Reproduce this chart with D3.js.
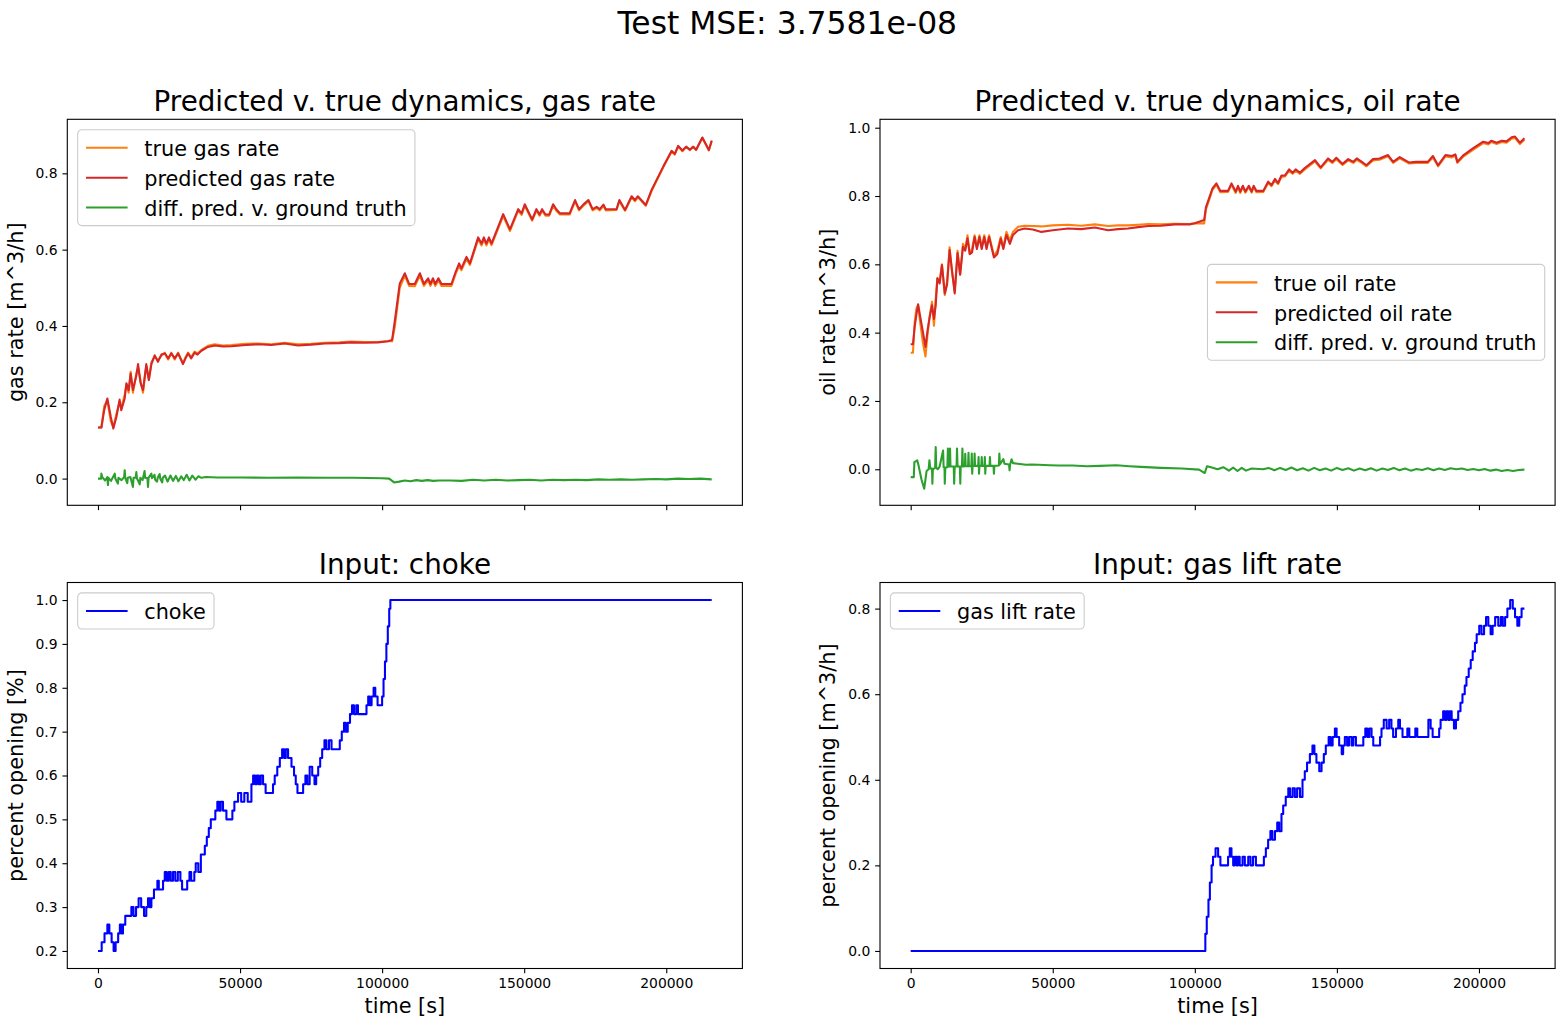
<!DOCTYPE html>
<html>
<head>
<meta charset="utf-8">
<script src="https://cdn.jsdelivr.net/npm/d3@7"></script>
<style>
  body { margin: 0; background: #fff; }
  text { font-family: "DejaVu Sans", sans-serif; }
</style>
</head>
<body>
<svg id="fig" width="1565" height="1028"></svg>
<script>
// ---- data: [time s, value] ----
var gasPred = [[0,.134],[1200,.134],[2200,.18],[3300,.21],[4500,.162],[5400,.131],[6500,.162],[7600,.207],[8200,.179],[9400,.21],[10000,.25],[10800,.232],[11500,.275],[12300,.232],[13500,.27],[14100,.30],[15000,.25],[15850,.232],[17000,.30],[17900,.258],[18800,.30],[19960,.323],[21100,.306],[22300,.325],[23500,.328],[24700,.315],[25800,.328],[27000,.315],[28200,.328],[29350,.31],[29900,.30],[30800,.315],[31700,.328],[32800,.315],[34000,.33],[35000,.325],[36400,.335],[38700,.345],[41100,.349],[44000,.346],[47000,.347],[52000,.350],[56300,.352],[61000,.350],[65700,.354],[70400,.349],[75000,.351],[79800,.354],[85000,.355],[89200,.357],[94000,.356],[98600,.357],[102000,.360],[103500,.363],[104500,.415],[106200,.511],[108000,.538],[109500,.51],[111500,.51],[113300,.538],[114700,.51],[116200,.525],[117000,.51],[117900,.525],[118700,.51],[119800,.525],[120900,.51],[124400,.51],[125900,.542],[127100,.564],[127900,.551],[129700,.581],[130900,.564],[133800,.632],[135000,.616],[135800,.632],[136700,.616],[137600,.632],[138500,.616],[142600,.693],[145000,.653],[147900,.706],[149100,.695],[150200,.719],[152800,.679],[154300,.706],[155400,.692],[156300,.706],[157500,.692],[158800,.692],[160200,.719],[161300,.706],[162600,.695],[166000,.695],[167900,.730],[169300,.706],[170800,.718],[172600,.73],[174100,.706],[175500,.712],[176600,.706],[177900,.718],[178700,.706],[182500,.706],[183500,.73],[185500,.704],[187800,.740],[189000,.73],[190000,.74],[191200,.73],[192800,.717],[194800,.756],[198900,.817],[201900,.859],[203000,.851],[204200,.872],[205700,.86],[207000,.87],[208300,.862],[209500,.87],[210500,.862],[212700,.894],[215000,.861],[216000,.886]];

var gasTrue = [[0,.134],[1200,.134],[2200,.19],[3300,.205],[4500,.15],[5400,.135],[6500,.17],[7600,.20],[8200,.185],[9400,.22],[10000,.245],[10800,.225],[11500,.28],[12300,.225],[13500,.275],[14100,.29],[15000,.255],[15850,.225],[17000,.295],[17900,.26],[18800,.305],[19960,.32],[21100,.31],[22300,.322],[23500,.33],[24700,.312],[25800,.33],[27000,.312],[28200,.33],[29350,.31],[29900,.302],[30800,.318],[31700,.33],[32800,.318],[34000,.333],[35000,.328],[36400,.337],[38700,.348],[41100,.352],[44000,.349],[47000,.350],[52000,.353],[56300,.354],[61000,.352],[65700,.356],[70400,.352],[75000,.353],[79800,.356],[85000,.357],[89200,.359],[94000,.358],[98600,.358],[102000,.360],[103500,.360],[104500,.40],[106200,.50],[108000,.532],[109500,.505],[111500,.504],[113300,.532],[114700,.505],[116200,.52],[117000,.505],[117900,.52],[118700,.505],[119800,.52],[120900,.505],[124400,.505],[125900,.537],[127100,.558],[127900,.546],[129700,.576],[130900,.56],[133800,.627],[135000,.611],[135800,.627],[136700,.611],[137600,.627],[138500,.612],[142600,.688],[145000,.649],[147900,.702],[149100,.691],[150200,.715],[152800,.676],[154300,.702],[155400,.689],[156300,.702],[157500,.689],[158800,.689],[160200,.715],[161300,.702],[162600,.692],[166000,.692],[167900,.726],[169300,.703],[170800,.715],[172600,.727],[174100,.703],[175500,.709],[176600,.703],[177900,.715],[178700,.703],[182500,.704],[183500,.727],[185500,.702],[187800,.737],[189000,.727],[190000,.737],[191200,.728],[192800,.715],[194800,.753],[198900,.815],[201900,.857],[203000,.849],[204200,.871],[205700,.858],[207000,.869],[208300,.861],[209500,.869],[210500,.861],[212700,.893],[215000,.86],[216000,.884]];

var gasDiff = [[0,0],[1100,0],[1200,.013],[1500,.004],[2500,-.005],[3300,.004],[3500,-.017],[3700,.002],[4600,-.006],[5200,.003],[5900,.013],[6100,.0],[7000,-.013],[7200,.002],[8300,-.004],[9200,.004],[9400,.022],[9600,.002],[10300,-.012],[10500,.002],[11400,.004],[12300,-.022],[12500,.002],[13300,.003],[13500,.017],[13700,.001],[14700,-.015],[14900,.002],[15700,-.004],[16400,.02],[16600,.002],[17400,.001],[17600,-.022],[17800,.002],[18800,.013],[19000,.001],[19900,.01],[20100,-.003],[20800,-.008],[21000,.002],[21700,.012],[21900,.0],[22600,-.01],[22800,.002],[23600,.008],[24500,-.008],[25500,.008],[26400,-.006],[27400,.007],[28300,-.007],[29300,.006],[30200,-.004],[31200,.01],[32200,-.005],[33200,.008],[34300,-.003],[35300,.006],[36400,.002],[38000,.004],[42000,.003],[50000,.003],[60000,.002],[70000,.003],[80000,.002],[90000,.002],[100000,.001],[102500,0],[104200,-.010],[106000,-.008],[108000,-.005],[110000,-.007],[112000,-.004],[114000,-.006],[116000,-.004],[118000,-.006],[120000,-.005],[124000,-.005],[128000,-.006],[132000,-.003],[136000,-.005],[140000,-.003],[144000,-.005],[148000,-.004],[152000,-.003],[156000,-.005],[160000,-.003],[164000,-.004],[168000,-.003],[172000,-.004],[176000,-.002],[180000,-.003],[184000,-.002],[188000,-.003],[192000,-.002],[196000,-.001],[200000,-.002],[204000,0],[208000,-.001],[212000,0],[216000,-.002]];

var oilPred = [[0,.366],[800,.366],[1400,.417],[2000,.451],[2600,.483],[3500,.44],[4300,.402],[5200,.358],[6000,.41],[6700,.446],[7500,.48],[8200,.44],[8800,.48],[9400,.559],[10200,.544],[11000,.598],[12000,.515],[12800,.54],[13700,.642],[14500,.585],[15500,.515],[16500,.633],[17400,.57],[18400,.651],[19200,.64],[20000,.676],[20800,.63],[21600,.635],[22500,.68],[23300,.645],[24200,.68],[25000,.645],[25900,.68],[26700,.645],[27600,.68],[28600,.645],[29300,.62],[30500,.63],[31700,.675],[32600,.645],[33700,.686],[34900,.66],[36000,.686],[37800,.70],[40100,.705],[43000,.702],[46000,.695],[50000,.700],[55400,.705],[60000,.703],[64800,.708],[69500,.70],[73000,.703],[76500,.705],[80000,.709],[83600,.712],[88000,.713],[93000,.717],[98200,.717],[100000,.72],[103300,.73],[103900,.767],[106200,.822],[107600,.837],[109000,.815],[111700,.815],[112900,.837],[114400,.813],[115200,.83],[116000,.813],[116900,.83],[117800,.813],[119000,.83],[120000,.813],[120700,.83],[121700,.815],[124100,.815],[125800,.842],[127000,.832],[128200,.85],[129300,.838],[130500,.86],[131700,.86],[133200,.878],[134400,.868],[135500,.878],[137000,.868],[138700,.882],[142300,.905],[144300,.884],[146900,.910],[148400,.90],[149800,.912],[152000,.894],[154000,.908],[155800,.90],[157000,.91],[158800,.90],[160400,.89],[162700,.908],[165000,.91],[168000,.92],[169800,.90],[172100,.914],[175500,.898],[177800,.90],[179600,.90],[182000,.90],[183800,.917],[185600,.89],[188200,.92],[190500,.917],[191700,.922],[192400,.90],[194600,.92],[198000,.94],[201500,.959],[203300,.955],[204400,.962],[206200,.956],[208000,.962],[209700,.96],[211500,.972],[212700,.974],[214400,.956],[216000,.969]];

var oilTrue = [[0,.341],[800,.341],[1400,.43],[2000,.47],[2600,.48],[3500,.42],[4300,.37],[5200,.33],[6000,.40],[6700,.45],[7500,.49],[8200,.42],[8800,.50],[9400,.56],[10200,.55],[11000,.60],[12000,.51],[12800,.55],[13700,.65],[14500,.58],[15500,.52],[16500,.64],[17400,.57],[18400,.66],[19200,.645],[20000,.685],[20800,.63],[21600,.645],[22500,.685],[23300,.65],[24200,.685],[25000,.65],[25900,.685],[26700,.65],[27600,.685],[28600,.65],[29300,.625],[30500,.64],[31700,.68],[32600,.65],[33700,.695],[34900,.67],[36000,.695],[37800,.71],[40100,.713],[43000,.712],[46000,.711],[50000,.714],[55400,.716],[60000,.713],[64800,.717],[69500,.712],[73000,.714],[76500,.714],[80000,.716],[83600,.718],[88000,.717],[93000,.719],[98200,.718],[100000,.72],[103300,.72],[103900,.76],[106200,.818],[107600,.833],[109000,.811],[111700,.812],[112900,.833],[114400,.809],[115200,.826],[116000,.809],[116900,.826],[117800,.81],[119000,.826],[120000,.81],[120700,.826],[121700,.811],[124100,.812],[125800,.838],[127000,.829],[128200,.846],[129300,.835],[130500,.856],[131700,.857],[133200,.874],[134400,.865],[135500,.874],[137000,.865],[138700,.878],[142300,.901],[144300,.881],[146900,.906],[148400,.897],[149800,.908],[152000,.891],[154000,.904],[155800,.897],[157000,.906],[158800,.897],[160400,.887],[162700,.904],[165000,.906],[168000,.916],[169800,.897],[172100,.91],[175500,.895],[177800,.897],[179600,.897],[182000,.897],[183800,.913],[185600,.887],[188200,.916],[190500,.913],[191700,.918],[192400,.897],[194600,.916],[198000,.936],[201500,.955],[203300,.951],[204400,.958],[206200,.952],[208000,.958],[209700,.956],[211500,.968],[212700,.97],[214400,.952],[216000,.965]];

var oilDiff = [[0,-.023],[1100,-.023],[1300,.021],[2300,.026],[2800,.01],[3800,-.03],[4750,-.057],[5200,-.03],[5600,-.005],[6300,0],[6600,.026],[6900,.002],[7500,.002],[7640,-.042],[7800,0],[8600,.004],[8800,.065],[9000,.005],[9500,0],[10200,.008],[11400,.055],[11600,.006],[11900,.005],[12000,-.042],[12200,.005],[12900,.006],[13100,.061],[13300,.008],[13700,.008],[13850,.061],[14000,.008],[15150,.008],[15300,-.042],[15500,.008],[16150,.008],[16300,.061],[16500,.008],[17300,.008],[17460,-.042],[17600,.008],[18050,.008],[18200,.061],[18400,.008],[19100,.009],[19200,.045],[19350,.009],[20200,.009],[20350,.048],[20500,.009],[21350,.009],[21500,.046],[21650,-.013],[21800,.009],[22350,.01],[22500,.046],[22650,.01],[23750,.01],[23900,.036],[24050,-.013],[24200,.01],[24850,.01],[25000,.036],[25150,.01],[25950,.01],[26100,.036],[26250,-.013],[26400,.01],[27750,.01],[27900,.036],[28050,.01],[29150,.01],[29300,-.013],[29450,.01],[31050,.011],[31200,.046],[31400,.014],[32600,.03],[33000,.016],[34600,.014],[34800,-.003],[35000,.014],[35500,.029],[36000,.018],[37700,.016],[40600,.013],[42500,.014],[45000,.013],[49000,.012],[52100,.011],[57000,.011],[62000,.009],[66600,.01],[72400,.012],[77000,.009],[81000,.007],[88000,.004],[95400,.002],[101500,-.001],[103500,-.011],[104300,.009],[106000,.005],[108000,0],[110000,.006],[112000,-.004],[113500,.005],[115000,-.005],[116500,.004],[118000,-.004],[120000,.002],[124000,0],[126000,.004],[128000,-.003],[130000,.004],[132000,-.002],[134000,.005],[136000,-.003],[138000,.003],[140000,-.004],[142000,.004],[144000,-.003],[146000,.002],[148000,-.004],[150000,.004],[152000,-.002],[154000,.003],[156000,-.004],[158000,.002],[160000,-.003],[162000,.003],[164000,-.004],[166000,.002],[168000,-.002],[170000,.004],[172000,-.003],[174000,.002],[176000,-.004],[178000,.001],[180000,-.002],[182000,.003],[184000,-.003],[186000,.002],[188000,-.002],[190000,.003],[192000,0],[194000,.002],[196000,-.002],[198000,.001],[200000,-.003],[202000,.001],[204000,-.004],[206000,-.001],[208000,-.005],[210000,-.002],[212000,-.005],[214000,-.002],[216000,-.001]];

// input levels: each pair = level that starts at that time
var choke = [[0,.20],[1300,.22],[2300,.24],[3300,.26],[4000,.24],[4800,.22],[5500,.20],[6200,.22],[7100,.24],[7700,.26],[8300,.24],[8800,.26],[9600,.28],[11750,.30],[12500,.28],[13400,.30],[14300,.32],[15200,.30],[16200,.28],[17000,.30],[17600,.32],[18200,.30],[18800,.32],[19700,.34],[20900,.36],[21400,.34],[22900,.36],[23500,.38],[24200,.36],[24900,.38],[25600,.36],[26400,.38],[27200,.36],[28100,.38],[29000,.36],[29600,.34],[31400,.36],[32200,.38],[32800,.36],[33900,.38],[34400,.40],[35300,.38],[36200,.42],[37600,.44],[38300,.46],[39000,.48],[39700,.50],[41300,.52],[42000,.54],[42600,.52],[43200,.54],[44000,.52],[45200,.50],[47300,.52],[48000,.54],[49300,.56],[50400,.54],[51500,.56],[52700,.54],[54000,.58],[54600,.60],[55300,.58],[55900,.60],[56600,.58],[57300,.60],[58100,.58],[59000,.56],[61600,.58],[62200,.60],[63100,.62],[64000,.64],[64800,.66],[65500,.64],[66100,.66],[66900,.64],[68100,.62],[69000,.60],[69600,.58],[70200,.56],[72200,.58],[73000,.60],[73700,.58],[74500,.62],[75400,.60],[76200,.58],[76800,.60],[77500,.62],[78200,.64],[78900,.66],[79700,.68],[80400,.66],[81300,.68],[82200,.66],[85100,.68],[85800,.70],[86600,.72],[87200,.70],[87900,.72],[88700,.74],[89400,.76],[90100,.74],[90900,.76],[91500,.74],[94500,.76],[95100,.78],[95700,.76],[96300,.78],[97000,.80],[97600,.78],[98400,.76],[100000,.78],[100500,.82],[101000,.86],[101500,.90],[102000,.94],[102500,.98],[102900,1.0],[216000,1.0]];

var gasLift = [[0,0],[103200,0],[103700,.04],[104200,.08],[104800,.12],[105300,.16],[105900,.20],[106400,.22],[107300,.24],[108200,.22],[109000,.20],[111700,.22],[112300,.24],[112900,.22],[113500,.20],[114100,.22],[114700,.20],[115200,.22],[115800,.20],[116800,.22],[117600,.20],[118800,.22],[119600,.20],[120500,.22],[121500,.20],[124300,.22],[125000,.24],[125800,.26],[126600,.28],[127300,.26],[128200,.28],[129000,.30],[129700,.28],[130500,.32],[131100,.34],[132000,.36],[132900,.38],[133500,.36],[134400,.38],[135200,.36],[136000,.38],[137000,.36],[137900,.40],[138700,.42],[139500,.44],[140500,.46],[141400,.48],[142100,.46],[142800,.44],[143800,.42],[144600,.44],[145400,.46],[146100,.48],[147100,.50],[147800,.48],[148500,.50],[149300,.52],[149900,.50],[150800,.48],[151700,.46],[152200,.48],[152800,.50],[153600,.48],[154300,.50],[155200,.48],[155800,.50],[156700,.48],[157500,.48],[159300,.50],[160000,.52],[160700,.50],[161400,.52],[162200,.50],[162800,.48],[165200,.50],[165700,.52],[166500,.54],[167500,.52],[168400,.54],[169200,.52],[169800,.50],[170800,.52],[171600,.54],[172200,.52],[173100,.50],[174800,.52],[175500,.50],[177600,.52],[178300,.50],[182200,.54],[183000,.52],[183700,.50],[186000,.52],[186500,.54],[187400,.56],[188000,.54],[188600,.56],[189200,.54],[189800,.56],[190400,.54],[191200,.52],[191900,.54],[192700,.56],[193500,.58],[194200,.60],[195000,.62],[195600,.64],[196400,.66],[197100,.68],[197800,.70],[198600,.72],[199200,.74],[200100,.76],[200900,.74],[201800,.76],[202500,.78],[203300,.76],[204100,.74],[204800,.76],[205700,.78],[206800,.76],[207700,.78],[208400,.76],[209200,.78],[210000,.80],[211000,.82],[211900,.80],[212700,.78],[213500,.76],[214200,.78],[215000,.80],[216000,.80]];

var xTicks = [0, 50000, 100000, 150000, 200000];
var yTicksGas = [0, .2, .4, .6, .8];
var yTicksOil = [0, .2, .4, .6, .8, 1.0];
var yTicksChoke = [.2, .3, .4, .5, .6, .7, .8, .9, 1.0];
var yTicksLift = [0, .2, .4, .6, .8];

// ---- layout ----
var svg = d3.select("#fig");
var colX = [67.3, 880], rowY = [119.3, 582.5];
var W = 675.1, H = 386;
var xDomain = [-10800, 226800];
var tick = 4.86, fsTick = 13.9, fsLabel = 20.8, fsTitle = 27.8;

svg.append("rect").attr("width", 1565).attr("height", 1028).attr("fill", "#fff");

svg.append("text")
  .attr("x", 787.3).attr("y", 34.3)
  .attr("text-anchor", "middle")
  .attr("font-size", 31.4)
  .text("Test MSE: 3.7581e-08");

function panel(col, row, cfg) {
  var g = svg.append("g").attr("transform", "translate(" + colX[col] + "," + rowY[row] + ")");
  var x = d3.scaleLinear().domain(xDomain).range([0, W]);
  var y = d3.scaleLinear().domain(cfg.yDomain).range([H, 0]);

  cfg.series.forEach(s => {
    var line = d3.line().x(d => x(d[0])).y(d => y(d[1]))
      .curve(s.step ? d3.curveStepAfter : d3.curveLinear);
    g.append("path").datum(s.data)
      .attr("d", line)
      .attr("fill", "none")
      .attr("stroke", s.color)
      .attr("stroke-width", 2.08)
      .attr("stroke-linejoin", "round");
  });

  var ax = g.append("g").attr("transform", "translate(0," + H + ")")
    .call(d3.axisBottom(x).tickValues(xTicks).tickSize(tick).tickPadding(4.86)
      .tickFormat(cfg.xLabels ? d3.format("d") : ""));
  var ay = g.append("g")
    .call(d3.axisLeft(y).tickValues(cfg.yTicks).tickSize(tick).tickPadding(4.86)
      .tickFormat(d3.format(".1f")));
  [ax, ay].forEach(a => {
    a.select(".domain").remove();
    a.selectAll("line").attr("stroke-width", 1.1);
    a.selectAll("text").attr("font-size", fsTick).attr("font-family", '"DejaVu Sans", sans-serif');
  });

  g.append("rect").attr("width", W).attr("height", H)
    .attr("fill", "none").attr("stroke", "#000").attr("stroke-width", 1.1);

  g.append("text").attr("x", W / 2).attr("y", -8.3)
    .attr("text-anchor", "middle").attr("font-size", fsTitle).text(cfg.title);

  g.append("text").attr("transform", "translate(-44.8," + (H / 2) + ") rotate(-90)")
    .attr("text-anchor", "middle").attr("font-size", fsLabel).text(cfg.ylabel);

  if (cfg.xLabels) {
    g.append("text").attr("x", W / 2).attr("y", H + 44.5)
      .attr("text-anchor", "middle").attr("font-size", fsLabel).text("time [s]");
  }

  drawLegend(g, cfg.series, cfg.legendLoc);
}

function drawLegend(g, items, loc) {
  var fs = fsLabel, pad = 0.4 * fs, hl = 2 * fs, htp = 0.8 * fs, ls = 0.5 * fs, rowH = 19.5, bap = 0.5 * fs;
  var lg = g.append("g");
  var box = lg.append("rect");
  var maxW = 0;
  items.forEach((it, i) => {
    var cy = pad + rowH / 2 + i * (rowH + ls);
    lg.append("line").attr("x1", pad).attr("x2", pad + hl).attr("y1", cy).attr("y2", cy)
      .attr("stroke", it.color).attr("stroke-width", 2.08);
    var t = lg.append("text").attr("x", pad + hl + htp).attr("y", cy + 8.3)
      .attr("font-size", fs).text(it.label);
    maxW = Math.max(maxW, t.node().getComputedTextLength());
  });
  var bw = 2 * pad + hl + htp + maxW;
  var bh = 2 * pad + items.length * rowH + (items.length - 1) * ls;
  box.attr("width", bw).attr("height", bh).attr("rx", 4.2).attr("ry", 4.2)
    .attr("fill", "#fff").attr("fill-opacity", 0.8)
    .attr("stroke", "#cccccc").attr("stroke-width", 1.1);
  var lx = bap, ly = bap;
  if (loc === "center right") { lx = W - bap - bw; ly = H / 2 - bh / 2; }
  lg.attr("transform", "translate(" + lx + "," + ly + ")");
}

panel(0, 0, {
  title: "Predicted v. true dynamics, gas rate",
  ylabel: "gas rate [m^3/h]",
  yDomain: [-0.070, 0.9416], yTicks: yTicksGas, xLabels: false, legendLoc: "upper left",
  series: [
    { data: gasTrue, color: "#ff7f0e", label: "true gas rate" },
    { data: gasPred, color: "#d62728", label: "predicted gas rate" },
    { data: gasDiff, color: "#2ca02c", label: "diff. pred. v. ground truth" }
  ]
});

panel(1, 0, {
  title: "Predicted v. true dynamics, oil rate",
  ylabel: "oil rate [m^3/h]",
  yDomain: [-0.1055, 1.0246], yTicks: yTicksOil, xLabels: false, legendLoc: "center right",
  series: [
    { data: oilTrue, color: "#ff7f0e", label: "true oil rate" },
    { data: oilPred, color: "#d62728", label: "predicted oil rate" },
    { data: oilDiff, color: "#2ca02c", label: "diff. pred. v. ground truth" }
  ]
});

panel(0, 1, {
  title: "Input: choke",
  ylabel: "percent opening [%]",
  yDomain: [0.16, 1.04], yTicks: yTicksChoke, xLabels: true, legendLoc: "upper left",
  series: [{ data: choke, color: "#0000ff", label: "choke", step: true }]
});

panel(1, 1, {
  title: "Input: gas lift rate",
  ylabel: "percent opening [m^3/h]",
  yDomain: [-0.041, 0.861], yTicks: yTicksLift, xLabels: true, legendLoc: "upper left",
  series: [{ data: gasLift, color: "#0000ff", label: "gas lift rate", step: true }]
});
</script>
</body>
</html>
